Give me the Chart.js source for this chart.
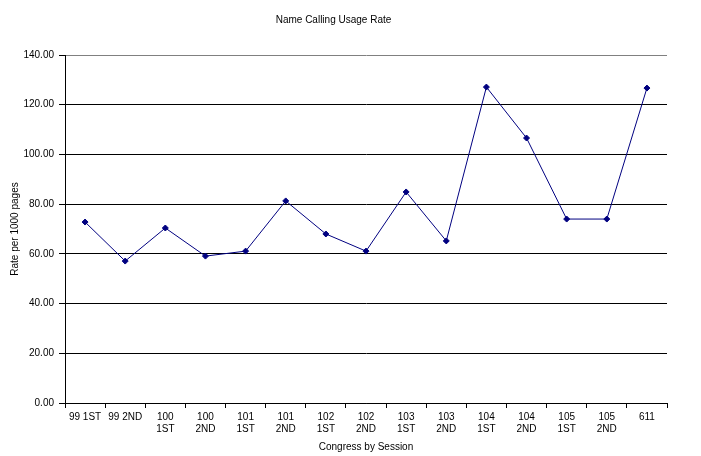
<!DOCTYPE html>
<html>
<head>
<meta charset="utf-8">
<script src="https://cdn.jsdelivr.net/npm/chart.js@4"></script>
<style>
  html, body { margin: 0; padding: 0; background: #fff; }
  #wrap { width: 701px; height: 456px; }
</style>
</head>
<body>
<div id="wrap"><canvas id="chart" width="701" height="456"></canvas></div>
<script>
const sessions = [
  "99 1ST", "99 2ND", ["100", "1ST"], ["100", "2ND"], ["101", "1ST"],
  ["101", "2ND"], ["102", "1ST"], ["102", "2ND"], ["103", "1ST"], ["103", "2ND"],
  ["104", "1ST"], ["104", "2ND"], ["105", "1ST"], ["105", "2ND"], "611",
];
const usageRate = [72.8, 57.1, 70.4, 59.1, 61.1, 81.3, 68.0, 61.1, 84.9, 65.2, 127.1, 106.6, 74.0, 74.0, 126.7];

const font = { family: "'Liberation Sans', Arial, sans-serif", size: 10, weight: "normal" };
const canvas = document.getElementById("chart");

const myChart = new Chart(canvas, {
  type: "line",
  data: {
    labels: sessions,
    datasets: [
      {
        data: usageRate,
        borderColor: "#000080",
        backgroundColor: "#000080",
        borderWidth: 1,
        pointStyle: "rectRot",
        pointRadius: 3,
        pointBorderWidth: 1,
        tension: 0,
      },
    ],
  },
  options: {
    responsive: false,
    animation: false,
    layout: { padding: { left: 0, right: 34, top: 0, bottom: 0 } },
    plugins: {
      legend: { display: false },
      tooltip: { enabled: false },
      title: {
        display: true,
        text: "Name Calling Usage Rate",
        color: "#000",
        font: font,
        padding: { top: 14, bottom: 29 },
      },
    },
    scales: {
      x: {
        offset: true,
        afterFit: (scale) => { scale.height = 53; },
        border: { color: "#000", width: 1 },
        grid: {
          offset: true,
          drawOnChartArea: true,
          color: (ctx) => (ctx.index === sessions.length ? "#808080" : "rgba(0,0,0,0)"),
          tickColor: "#000",
          tickLength: 5,
        },
        ticks: { color: "#000", font: font, maxRotation: 0, autoSkip: false, padding: 3 },
        title: { display: true, text: "Congress by Session", color: "#000", font: font, padding: { top: 0, bottom: 3 } },
      },
      y: {
        min: 0,
        max: 140,
        afterFit: (scale) => { scale.width = 65; },
        border: { color: "#000", width: 1 },
        grid: {
          color: (ctx) => (ctx.tick && ctx.tick.value === 140 ? "#808080" : "#000"),
          tickColor: "#000",
          tickLength: 6,
        },
        ticks: {
          stepSize: 20,
          color: "#000",
          font: font,
          padding: 5,
          callback: (v) => v.toFixed(2),
        },
        title: { display: true, text: "Rate per 1000 pages", color: "#000", font: font, padding: { top: 9, bottom: 4 } },
      },
    },
  },
});
</script>
</body>
</html>
